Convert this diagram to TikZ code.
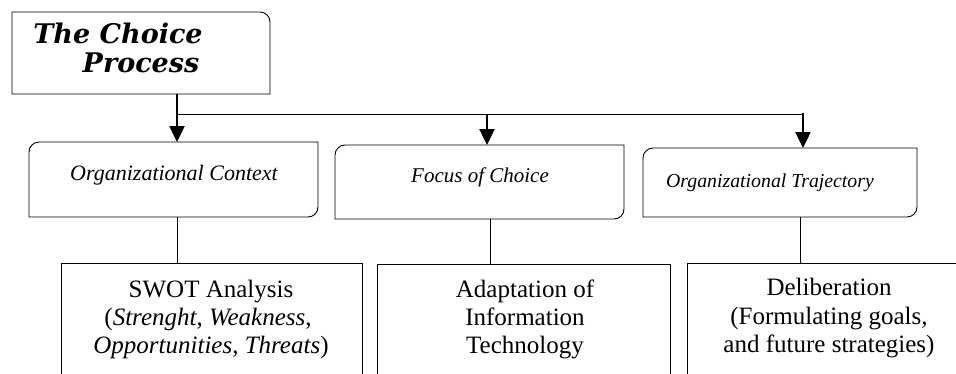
\documentclass[tikz,border=0pt]{standalone}
\usepackage{fontspec}
\setmainfont{Liberation Serif}
\newfontfamily\titlefont{DejaVu Serif}
\usetikzlibrary{arrows.meta}
\begin{document}
\begin{tikzpicture}[x=1pt,y=1pt,
  boxline/.style={line width=0.9pt},
  conn/.style={line width=0.9pt},
  arr/.style={line width=2.4pt,-{Triangle[width=15pt,length=16pt]}},
  shell/.style={inner sep=0pt,outer sep=0pt,anchor=north west},
  titletxt/.style={anchor=base,inner sep=0pt,font=\titlefont\bfseries\itshape\fontsize{27}{32}\selectfont},
  midtxt/.style={anchor=base,inner sep=0pt,font=\itshape\fontsize{#1}{26}\selectfont},
  bottxt/.style={anchor=base,inner sep=0pt,font=\fontsize{25}{28}\selectfont}
]
\useasboundingbox (0,0) rectangle (956,-373);
\clip (0,0) rectangle (956,-373);
% box shells
\node[shell,minimum width=258pt,minimum height=82pt] (top) at (12,-12) {};
\node[shell,minimum width=289pt,minimum height=75pt] (m1) at (29,-142) {};
\node[shell,minimum width=289pt,minimum height=74pt] (m2) at (335,-145) {};
\node[shell,minimum width=274pt,minimum height=69pt] (m3) at (643,-148) {};
\node[shell,minimum width=301pt,minimum height=130pt] (b1) at (61,-263) {};
\node[shell,minimum width=293pt,minimum height=130pt] (b2) at (377,-264) {};
\node[shell,minimum width=300pt,minimum height=130pt] (b3) at (687,-263) {};
% outlines
\draw[boxline] (top.south west) -- (top.north west) -- ([xshift=-10pt]top.north east)
  arc[start angle=90,end angle=0,radius=10pt] -- (top.south east) -- cycle;
\foreach \m in {m1,m2,m3}{
  \draw[boxline] ([yshift=-10pt]\m.north west) arc[start angle=180,end angle=90,radius=10pt]
    -- (\m.north east) -- ([yshift=10pt]\m.south east)
    arc[start angle=0,end angle=-90,radius=10pt] -- (\m.south west) -- cycle;
}
\foreach \b in {b1,b2,b3}{
  \draw[boxline] (\b.south west) -- (\b.north west) -- (\b.north east) -- (\b.south east);
}
% texts
\node[titletxt] (t1) at (118,-43) {The Choice};
\node[titletxt] (t2) at (141,-72) {Process};
\node[midtxt=22] (m1t) at (174,-180) {Organizational Context};
\node[midtxt=21] (m2t) at (480,-182) {Focus of Choice};
\node[midtxt=19.8] (m3t) at (770,-187) {Organizational Trajectory};
\node[bottxt] (b1a) at (211,-297) {SWOT Analysis};
\node[bottxt] (b1b) at (208,-325) {(\textit{Strenght}, \textit{Weakness},};
\node[bottxt] (b1c) at (211,-353) {\textit{Opportunities}, \textit{Threats})};
\node[bottxt] (b2a) at (525,-297) {Adaptation of};
\node[bottxt] (b2b) at (525,-325) {Information};
\node[bottxt] (b2c) at (525,-353) {Technology};
\node[bottxt] (b3a) at (829,-295) {Deliberation};
\node[bottxt] (b3b) at (829,-324) {(Formulating goals,};
\node[bottxt] (b3c) at (829,-352) {and future strategies)};
% connectors
\coordinate (j1) at (177,-114);
\coordinate (j2) at (487,-114);
\coordinate (j3) at (803,-114);
\coordinate (c1) at (177,0);
\coordinate (c2) at (490,0);
\coordinate (c3) at (800,0);
\draw[conn] (j1) -- (j3);
\draw[arr] (j1 |- top.south) -- (j1 |- m1.north);
\draw[arr] (j2) -- (j2 |- m2.north);
\draw[arr] ([yshift=1.2pt]j3) -- (j3 |- m3.north);
\draw[conn] (c1 |- m1.south) -- (c1 |- b1.north);
\draw[conn] (c2 |- m2.south) -- (c2 |- b2.north);
\draw[conn] (c3 |- m3.south) -- (c3 |- b3.north);
\end{tikzpicture}
\end{document}
